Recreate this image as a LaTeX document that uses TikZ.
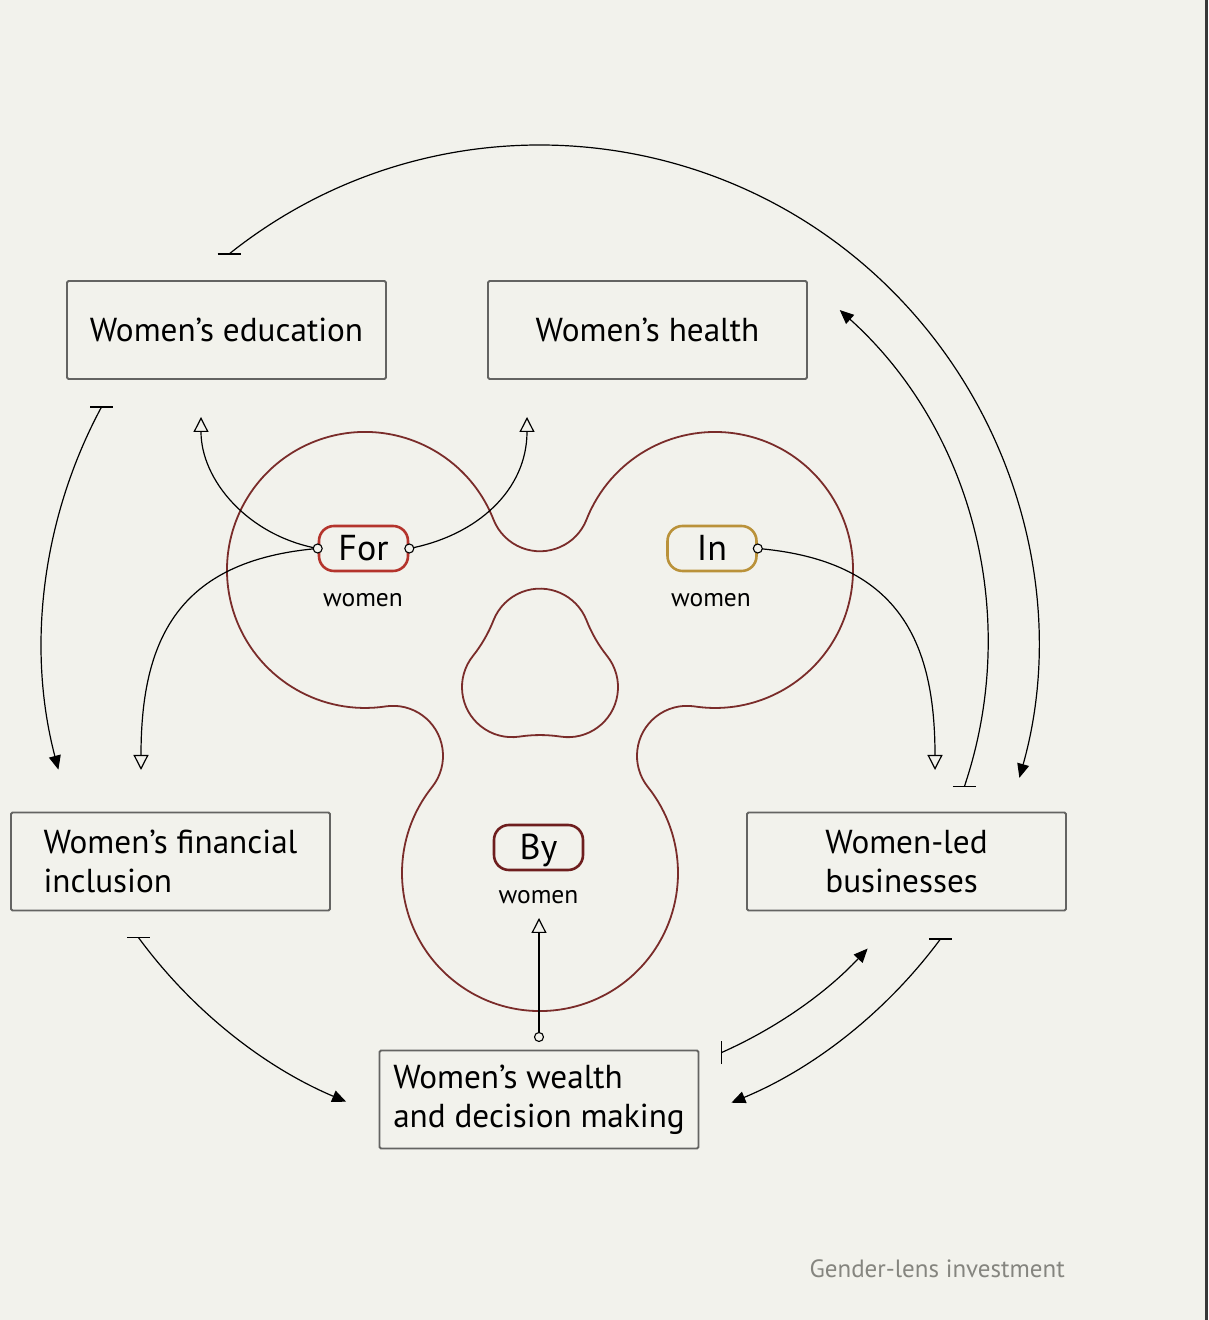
\documentclass[tikz,border=0pt]{standalone}
\usepackage{fontspec}
\setmainfont{PT Sans}
\usetikzlibrary{arrows.meta,calc}
\definecolor{bg}{RGB}{242,242,236}
\definecolor{blobc}{RGB}{122,44,42}
\definecolor{forc}{RGB}{180,52,44}
\definecolor{inc}{RGB}{186,146,58}
\definecolor{byc}{RGB}{110,30,30}
\definecolor{boxc}{RGB}{100,100,98}
\definecolor{footc}{RGB}{133,133,127}
\tikzset{
  box/.style={draw=boxc,line width=1.8pt,rounded corners=1.5pt,minimum width=319pt,minimum height=98pt,inner sep=0pt,align=left,
    font=\fontsize{33.2}{39}\selectfont},
  pill/.style={line width=2.6pt,rounded corners=15pt,minimum width=89pt,minimum height=45pt,inner sep=0pt,
    text height=24.5pt,text depth=0pt,font=\fontsize{36}{36}\selectfont},
  wlabel/.style={anchor=base,inner sep=0pt,font=\fontsize{25.5}{25.5}\selectfont},
  blob/.style={draw=blobc,line width=1.8pt},
  conn/.style={line width=1.2pt,black},
  fillarrow/.style={conn,-{Triangle[length=14pt,width=12pt]}},
  openarrow/.style={conn,-{Triangle[open,length=15pt,width=15pt,fill=bg]}},
  dot/.style={circle,draw,fill=bg,line width=1.1pt,minimum size=9pt,inner sep=0pt},
}
\begin{document}
\begin{tikzpicture}[x=1pt,y=1pt]
\useasboundingbox (0,0) rectangle (1208,1320);
\fill[bg] (0,0) rectangle (1208,1320);
\fill[black!78] (1205,0) rectangle (1208,1320);

% blob geometry
\coordinate (C) at (540,649);
\coordinate (cFor) at ($(C)+(150:202.07pt)$);
\coordinate (cIn) at ($(C)+(30:202.07pt)$);
\coordinate (cBy) at ($(C)+(270:202.07pt)$);

\draw[blob] ($(cIn)+(-98.57:138pt)$)
  arc[start angle=-98.57,end angle=158.57,radius=138pt]
  arc[start angle=-21.43,end angle=-158.57,radius=50pt]
  arc[start angle=21.43,end angle=278.57,radius=138pt]
  arc[start angle=98.57,end angle=-38.57,radius=50pt]
  arc[start angle=141.43,end angle=398.57,radius=138pt]
  arc[start angle=218.57,end angle=81.43,radius=50pt] -- cycle;

\draw[blob] ($(cIn)+(201.43:138pt)$)
  arc[start angle=21.43,end angle=158.57,radius=50pt]
  arc[start angle=-21.43,end angle=-38.57,radius=138pt]
  arc[start angle=141.43,end angle=278.57,radius=50pt]
  arc[start angle=98.57,end angle=81.43,radius=138pt]
  arc[start angle=261.43,end angle=398.57,radius=50pt]
  arc[start angle=218.57,end angle=201.43,radius=138pt] -- cycle;

% boxes
\node[box] (edu) at (226.5,990) {Women’s education};
\node[box] (health) at (647.5,990) {Women’s health};
\node[box] (fin) at (170.5,458.5) {Women’s financial\\inclusion};
\node[box] (led) at (906.5,458.5) {Women-led\\businesses};
\node[box] (wealth) at (539,220.5) {Women’s wealth\\and decision making};

% pills
\node[pill,draw=forc] (for) at (363.5,771.5) {For};
\node[pill,draw=inc] (in) at (712,771.5) {In};
\node[pill,draw=byc] (by) at (538.5,472.5) {By};
\node[wlabel] (forw) at (363,713) {women};
\node[wlabel] (inw) at (711,713) {women};
\node[wlabel] (byw) at (538.5,416) {women};

% free ends of the inner connectors
\coordinate (tEdu) at (201,903);
\coordinate (tHealth) at (527,903);
\coordinate (tFin) at (141,550);
\coordinate (tLed) at (935,550);
\coordinate (tBy) at (539,402);
\coordinate (sWealth) at (539,283);

\draw[openarrow] (for.west) .. controls +(-70,13) and +(0,-63) .. (tEdu);
\draw[openarrow] (for.east) .. controls +(68,13) and +(0,-73) .. (tHealth);
\draw[openarrow] (for.west) .. controls +(-140,-12) and +(0,130) .. (tFin);
\draw[openarrow] (in.east) .. controls +(140,-12) and +(0,130) .. (tLed);
\draw[openarrow] (sWealth) -- (tBy);

\node[dot] (dForL) at (for.west) {};
\node[dot] (dForR) at (for.east) {};
\node[dot] (dInR) at (in.east) {};
\node[dot] (dWealth) at (sWealth) {};

% outer arcs (centre O)
\coordinate (O) at (540,677);
\coordinate (sA) at ($(O)+(128.64:498pt)$);
\coordinate (sB) at ($(O)+(151.7:498pt)$);
\coordinate (sC) at ($(O)+(-18.64:448pt)$);
\coordinate (sD) at ($(O)+(216.27:498pt)$);
\coordinate (sE) at ($(O)+(-36.48:498pt)$);
\coordinate (sF) at ($(O)+(-66.14:448pt)$);

\draw[fillarrow] (sA) arc[start angle=128.64,end angle=-15.71,radius=498pt];
\draw[fillarrow] (sB) arc[start angle=151.7,end angle=194.73,radius=498pt];
\draw[fillarrow] (sC) arc[start angle=-18.64,end angle=48.0,radius=448pt];
\draw[fillarrow] (sD) arc[start angle=216.27,end angle=247.09,radius=498pt];
\draw[fillarrow] (sE) arc[start angle=-36.48,end angle=-67.4,radius=498pt];
\draw[fillarrow] (sF) arc[start angle=-66.14,end angle=-43.0,radius=448pt];

% bars at the start of the outer arcs
\draw[conn] ($(sA)+(-11.5,0)$) -- ($(sA)+(11.5,0)$);
\draw[conn] ($(sB)+(-11.5,0)$) -- ($(sB)+(11.5,0)$);
\draw[conn] ($(sC)+(-11.5,0)$) -- ($(sC)+(11.5,0)$);
\draw[conn] ($(sD)+(-11.5,0)$) -- ($(sD)+(11.5,0)$);
\draw[conn] ($(sE)+(-11.5,0)$) -- ($(sE)+(11.5,0)$);
\draw[conn] ($(sF)+(0,-11.5)$) -- ($(sF)+(0,11.5)$);

% footer
\node[anchor=base east,inner sep=0pt,text=footc,font=\fontsize{25}{25}\selectfont] (foot) at (1065,42) {Gender-lens investment};
\end{tikzpicture}
\end{document}
